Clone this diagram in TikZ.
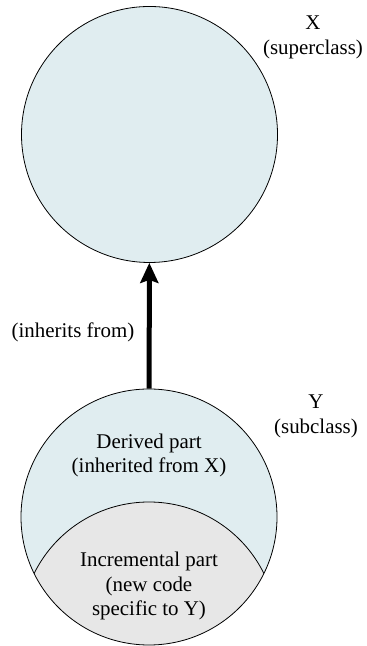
\documentclass[tikz,border=0pt]{standalone}
\usepackage{fontspec}
\setmainfont{Liberation Serif}
\usepackage{tikz}
\usetikzlibrary{arrows.meta}
\definecolor{classfill}{HTML}{E0EDF0}
\definecolor{incrfill}{HTML}{E7E7E7}
\tikzset{
  vclass/.style={circle,draw=black,fill=classfill,line width=0.8pt,minimum size=256bp,inner sep=0pt},
  vtag/.style={align=center,inner sep=0pt},
  varr/.style={-{Stealth[length=20bp,width=18bp,inset=3bp]},line width=5bp,draw=black}
}

\begin{document}
\begin{tikzpicture}[x=1bp,y=1bp,font=\fontsize{21}{24.5}\selectfont]
  \useasboundingbox (0,0) rectangle (366,646);
  \node[vclass] (sup) at (149.5,511.5) {};
  \node[vclass,path picture={
      \fill[incrfill,draw=black,line width=0.8pt] ([yshift=-113bp]path picture bounding box.center) circle (128);
    }] (sub) at (149,129) {};
  \draw[varr] (sub) -- (sup);
  \node[vtag] (inh) at (73,314) {(inherits from)};
  \node[vtag] (xlab) at (313,608.5) {X\\(superclass)};
  \node[vtag] (ylab) at (316,229.5) {Y\\(subclass)};
  \node[vtag] (der) at (149,190.5) {Derived part\\(inherited from X)};
  \node[vtag] (inc) at (149,60) {Incremental part\\(new code\\specific to Y)};
\end{tikzpicture}
\end{document}
